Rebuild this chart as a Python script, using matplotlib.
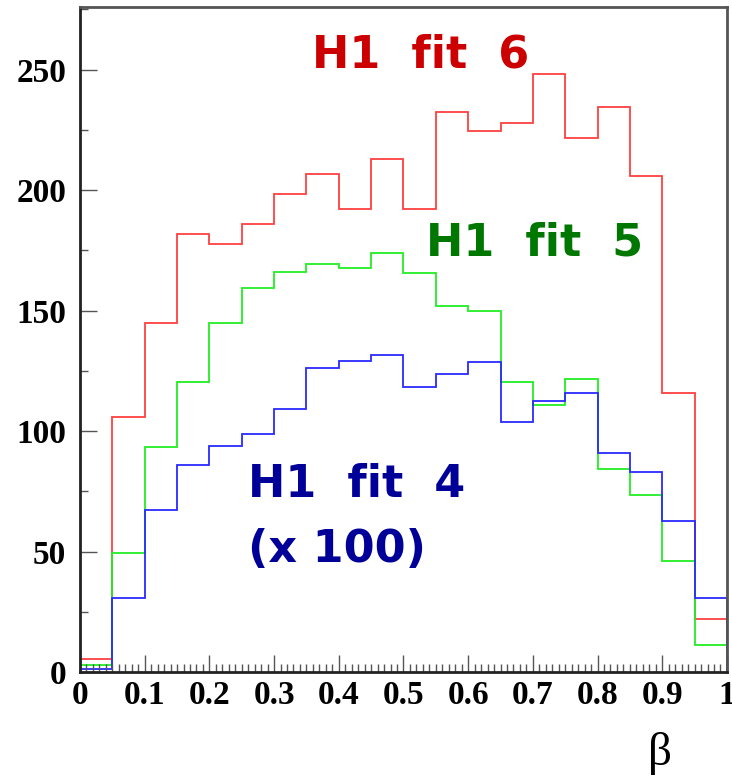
import numpy as np
import matplotlib.pyplot as plt
from matplotlib.ticker import MultipleLocator

edges = np.linspace(0, 1, 21)

fit6 = [5.2, 106, 145, 182, 177.5, 186, 198.5, 206.5, 192, 213,
        192, 232.5, 224.5, 228, 248, 221.5, 234.5, 206, 116, 22]
fit5 = [2.8, 49.5, 93.5, 120.5, 144.7, 159.5, 166, 169.5, 167.5, 173.8,
        165.5, 152, 149.7, 120.2, 111, 121.6, 84.3, 73.3, 46, 11]
fit4 = [1.4, 30.6, 67.2, 85.8, 93.6, 98.8, 109.2, 126.3, 129, 131.6,
        118.2, 123.8, 128.5, 103.8, 112.4, 115.7, 90.8, 83.1, 62.8, 30.8]

fig = plt.figure(figsize=(7.32, 7.82), dpi=100)
ax = fig.add_axes([0.1093, 0.1407, 0.8838, 0.8503])

ax.stairs(fit6, edges, baseline=0, color="#ff4040", lw=1.3)
ax.stairs(fit5, edges, baseline=0, color="#22ee22", lw=1.3)
ax.stairs(fit4, edges, baseline=0, color="#2a2aff", lw=1.3)

ax.set_xlim(0, 1)
ax.set_ylim(0, 276)

ax.xaxis.set_major_locator(MultipleLocator(0.1))
ax.xaxis.set_minor_locator(MultipleLocator(0.01))
ax.yaxis.set_major_locator(MultipleLocator(50))
ax.yaxis.set_minor_locator(MultipleLocator(25))
ax.tick_params(which="both", direction="in", top=False, right=False, color="#555555")
ax.tick_params(which="major", length=12, width=1)
ax.tick_params(which="minor", length=6, width=1)
ax.tick_params(axis="y", which="major", pad=10)
ax.tick_params(axis="x", which="major", pad=6)

ax.set_xticks(np.round(np.arange(0, 1.01, 0.1), 1))
ax.set_xticklabels(["0"] + ["%.1f" % v for v in np.arange(0.1, 0.95, 0.1)] + ["1"])
for lab in ax.get_xticklabels() + ax.get_yticklabels():
    lab.set_fontfamily("Liberation Serif")
    lab.set_fontweight("bold")
    lab.set_fontsize(24)

for side in ["left", "bottom"]:
    ax.spines[side].set_color("#222222")
    ax.spines[side].set_linewidth(2)
for side in ["top", "right"]:
    ax.spines[side].set_color("#555555")
    ax.spines[side].set_linewidth(2)

fig.text(0.902, 0.036, "β", fontfamily="Liberation Serif", fontsize=34,
         ha="center", va="center")

lbl = dict(fontfamily="DejaVu Sans", fontweight="bold", fontsize=32, ha="left", va="center")
ax.text(0.358, 256, "H1  fit  6", color="#cc0000", **lbl)
ax.text(0.535, 178, "H1  fit  5", color="#007700", **lbl)
ax.text(0.26, 78, "H1  fit  4", color="#000099", **lbl)
ax.text(0.26, 51, "(x 100)", color="#000099", **lbl)

fig.savefig("out.png", dpi=100)
